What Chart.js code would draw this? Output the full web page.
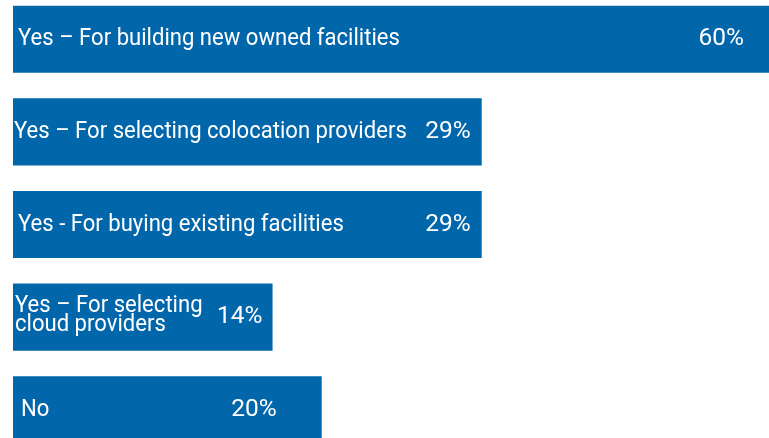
<!DOCTYPE html>
<html>
<head>
<meta charset="utf-8">
<script src="https://cdn.jsdelivr.net/npm/chart.js@4.4.1/dist/chart.umd.min.js"></script>
<style>
  html, body { margin: 0; padding: 0; background: #ffffff; overflow: hidden; }
  #frame { width: 769px; height: 438px; position: relative; overflow: hidden; }
  #wrap { width: 769px; height: 463px; position: absolute; left: 0; top: -7px; }
</style>
</head>
<body>
<div id="frame"><div id="wrap"><canvas id="c"></canvas></div></div>
<script>
// Categories (bar texts)
const categories = [
  'Yes – For building new owned facilities',
  'Yes – For selecting colocation providers',
  'Yes - For buying existing facilities',
  ['Yes – For selecting', 'cloud providers'],
  'No'
];
// Percentages printed on the bars
const percentLabels = ['60%', '29%', '29%', '14%', '20%'];
// Bar lengths as drawn in the picture (same axis units, axis max = 60)
const barValues = [60, 37.2, 37.2, 20.6, 24.5];

const BLUE = '#0266ab';
const FONT = 'Roboto, "Noto Sans", sans-serif';

const textPlugin = {
  id: 'barTexts',
  afterDatasetsDraw(chart, args, opts) {
    const ctx = chart.ctx;
    const meta = chart.getDatasetMeta(0);
    ctx.save();
    ctx.fillStyle = '#ffffff';
    ctx.textBaseline = 'alphabetic';
    meta.data.forEach((bar, i) => {
      const left = Math.min(bar.base, bar.x);
      const right = Math.max(bar.base, bar.x);
      const cy = bar.y;
      const lab = categories[i];
      const lines = Array.isArray(lab) ? lab : [lab];
      // category text
      ctx.font = opts.fontSize + 'px ' + FONT;
      lines.forEach((ln, k) => {
        const by = lines.length === 1 ? cy + opts.baseShift
                 : cy - 5 + k * opts.lineHeight;
        ctx.save();
        ctx.translate(left + opts.labelInset[i], by);
        ctx.scale(opts.squeeze, 1);
        ctx.textAlign = 'left';
        ctx.fillText(ln, 0, 0);
        ctx.restore();
      });
      // percentage
      ctx.font = opts.valueFontSize + 'px ' + FONT;
      ctx.save();
      ctx.translate(right - opts.valueInset[i], cy + opts.baseShift);
      ctx.scale(opts.valueSqueeze, 1);
      ctx.textAlign = 'right';
      ctx.fillText(percentLabels[i], 0, 0);
      ctx.restore();
    });
    ctx.restore();
  }
};

new Chart(document.getElementById('c'), {
  type: 'bar',
  data: {
    labels: categories,
    datasets: [{
      data: barValues,
      backgroundColor: BLUE,
      borderWidth: 0,
      barPercentage: 0.725,
      categoryPercentage: 1.0
    }]
  },
  options: {
    indexAxis: 'y',
    responsive: true,
    maintainAspectRatio: false,
    animation: false,
    layout: { padding: { left: 13, right: 0, top: 0, bottom: 0 } },
    scales: {
      x: { display: false, min: 0, max: 60 },
      y: { display: false, offset: true }
    },
    plugins: {
      legend: { display: false },
      tooltip: { enabled: false },
      barTexts: {
        fontSize: 24,
        squeeze: 0.92,
        valueFontSize: 24.5,
        valueSqueeze: 1.0,
        baseShift: 6,
        lineHeight: 19,
        labelInset: [5, 1, 5, 2, 8],
        valueInset: [25, 11, 11, 10, 45]
      }
    }
  },
  plugins: [textPlugin]
});
</script>
</body>
</html>
